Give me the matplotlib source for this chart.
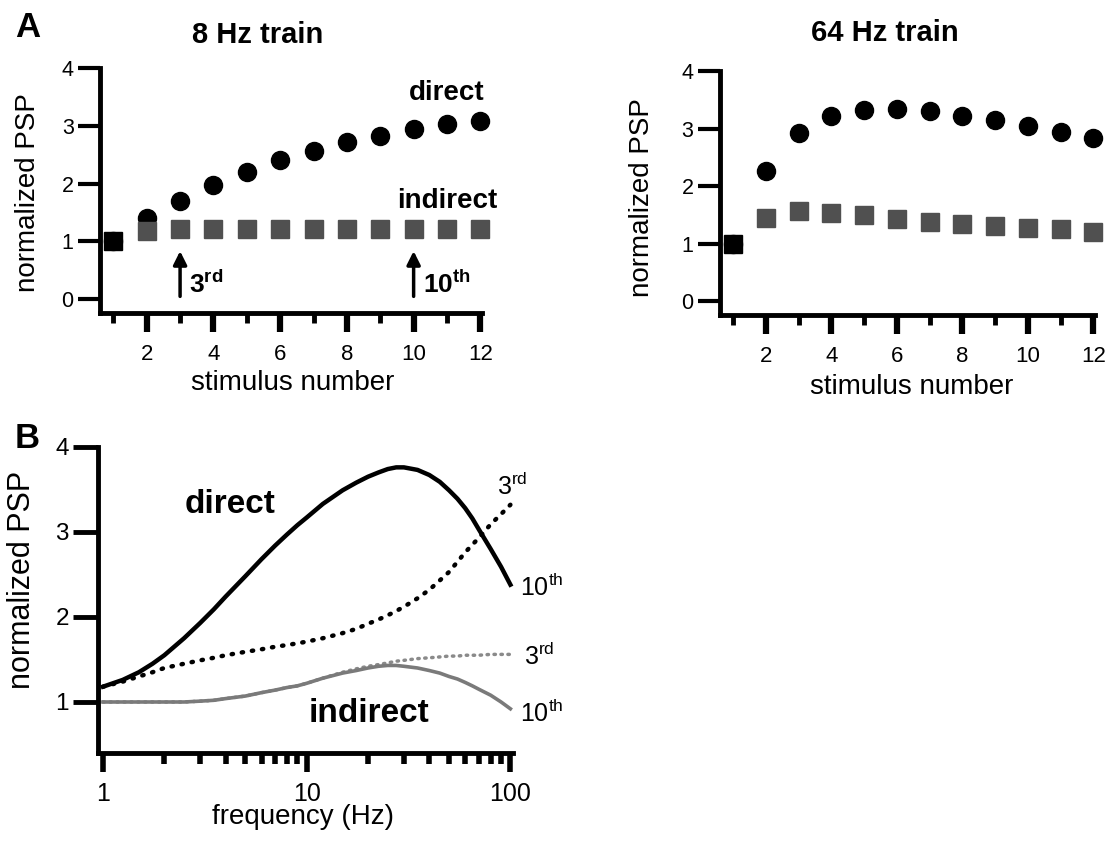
import numpy as np
import matplotlib
matplotlib.use("Agg")
import matplotlib.pyplot as plt
from matplotlib.ticker import FixedLocator, NullFormatter

plt.rcParams['font.family'] = ['Liberation Sans', 'DejaVu Sans']
plt.rcParams['mathtext.fontset'] = 'custom'
plt.rcParams['mathtext.rm'] = 'Liberation Sans'
plt.rcParams['mathtext.bf'] = 'Liberation Sans:bold'

# ---- data: panel A (stimulus trains) ----
stim = [1, 2, 3, 4, 5, 6, 7, 8, 9, 10, 11, 12]
direct_8hz = [1.0, 1.41, 1.70, 1.97, 2.20, 2.40, 2.57, 2.72, 2.83, 2.95, 3.03, 3.09]
indirect_8hz = [1.0, 1.18, 1.21, 1.21, 1.21, 1.21, 1.21, 1.21, 1.21, 1.21, 1.21, 1.21]
direct_64hz = [1.0, 2.26, 2.93, 3.22, 3.33, 3.34, 3.31, 3.22, 3.14, 3.04, 2.94, 2.83]
indirect_64hz = [1.0, 1.45, 1.56, 1.53, 1.49, 1.43, 1.38, 1.34, 1.30, 1.27, 1.25, 1.20]

# ---- data: panel B (frequency dependence) ----
freq = [1, 1.25, 1.5, 1.75, 2, 2.5, 3, 3.5, 4, 5, 6, 7, 8, 9, 10, 12, 15, 17.5,
        20, 22.5, 25, 27.5, 30, 35, 40, 45, 50, 55, 60, 65, 70, 80, 90, 100]
direct_10th = [1.18, 1.26, 1.35, 1.45, 1.55, 1.75, 1.93, 2.09, 2.24, 2.48, 2.68, 2.84,
               2.97, 3.08, 3.17, 3.33, 3.49, 3.58, 3.65, 3.70, 3.74, 3.76, 3.76, 3.73,
               3.67, 3.59, 3.49, 3.39, 3.28, 3.16, 3.03, 2.80, 2.59, 2.38]
direct_3rd = [1.18, 1.24, 1.30, 1.35, 1.40, 1.45, 1.49, 1.52, 1.55, 1.59, 1.62, 1.65,
              1.67, 1.69, 1.71, 1.75, 1.81, 1.86, 1.92, 1.97, 2.02, 2.07, 2.12, 2.22,
              2.32, 2.43, 2.53, 2.65, 2.76, 2.85, 2.93, 3.09, 3.21, 3.32]
indirect_10th = [1.0, 1.0, 1.0, 1.0, 1.0, 1.0, 1.01, 1.02, 1.04, 1.07, 1.11, 1.14,
                 1.17, 1.19, 1.22, 1.28, 1.34, 1.37, 1.40, 1.42, 1.43, 1.43, 1.42, 1.40,
                 1.37, 1.34, 1.30, 1.27, 1.23, 1.19, 1.15, 1.08, 1.00, 0.92]
indirect_3rd = [1.0, 1.0, 1.0, 1.0, 1.0, 1.0, 1.01, 1.02, 1.04, 1.07, 1.11, 1.14,
                1.17, 1.19, 1.22, 1.28, 1.35, 1.39, 1.42, 1.44, 1.46, 1.48, 1.49, 1.51,
                1.52, 1.53, 1.54, 1.54, 1.55, 1.55, 1.55, 1.56, 1.56, 1.56]

sq_gray = '#505050'

fig = plt.figure(figsize=(11.15, 8.52), dpi=100)


def style_train_axes(ax):
    ax.spines['top'].set_visible(False)
    ax.spines['right'].set_visible(False)
    ax.spines['left'].set_linewidth(3.5)
    ax.spines['bottom'].set_linewidth(3.5)
    ax.set_ylim(-0.24, 4.0)
    ax.set_xlim(0.6, 12.05)
    ax.set_yticks([0, 1, 2, 3, 4])
    ax.xaxis.set_major_locator(FixedLocator([2, 4, 6, 8, 10, 12]))
    ax.xaxis.set_minor_locator(FixedLocator([1, 3, 5, 7, 9, 11]))
    ax.xaxis.set_minor_formatter(NullFormatter())
    ax.tick_params(axis='y', length=16, width=3, labelsize=15.5, pad=3)
    ax.tick_params(axis='x', which='major', length=14, width=4.5, labelsize=16, pad=8)
    ax.tick_params(axis='x', which='minor', length=7, width=3.5)
    ax.set_xlabel('stimulus number', fontsize=20, va='center')
    ax.set_ylabel('normalized PSP', fontsize=20, va='center')


def plot_train(ax, d, ind):
    ax.plot(stim, d, 'o', color='black', ms=13, clip_on=False, zorder=3)
    ax.plot(stim[1:], ind[1:], 's', color=sq_gray, ms=12.5, mec=sq_gray, clip_on=False, zorder=4)
    ax.plot(stim[:1], ind[:1], 's', color='black', ms=12.5, clip_on=False, zorder=5)


# ---- 8 Hz train ----
ax1 = fig.add_axes([0.0897, 0.6326, 0.3426, 0.2876])
plot_train(ax1, direct_8hz, indirect_8hz)
style_train_axes(ax1)
ax1.xaxis.set_label_coords(0.505, -0.286)
ax1.yaxis.set_label_coords(-0.188, 0.49)
ax1.text(11.0, 3.57, 'direct', fontsize=20, fontweight='bold', ha='center', va='center')
ax1.text(11.0, 1.69, 'indirect', fontsize=20, fontweight='bold', ha='center', va='center')
for xs, lab in [(3, r'3$^{\mathbf{rd}}$'), (10, r'10$^{\mathbf{th}}$')]:
    ax1.annotate('', xy=(xs, 0.88), xytext=(xs, 0.0),
                 arrowprops=dict(arrowstyle='-|>', lw=2.5, color='black', mutation_scale=20))
    ax1.text(xs + 0.28, 0.26, lab, fontsize=19, fontweight='bold', ha='left', va='center')

# ---- 64 Hz train ----
ax2 = fig.add_axes([0.6457, 0.6303, 0.3363, 0.2864])
plot_train(ax2, direct_64hz, indirect_64hz)
style_train_axes(ax2)
ax2.xaxis.set_label_coords(0.512, -0.295)
ax2.yaxis.set_label_coords(-0.208, 0.48)

fig.text(0.2314, 0.9589, '8 Hz train', fontsize=21, fontweight='bold', ha='center', va='center')
fig.text(0.7937, 0.9613, '64 Hz train', fontsize=21, fontweight='bold', ha='center', va='center')
fig.text(0.0251, 0.9683, 'A', fontsize=25, fontweight='bold', ha='center', va='center')
fig.text(0.0242, 0.4859, 'B', fontsize=25, fontweight='bold', ha='center', va='center')

# ---- panel B ----
ax3 = fig.add_axes([0.0879, 0.1162, 0.3722, 0.3592])
ax3.plot(freq, indirect_3rd, color='#8a8a8a', lw=2.5, ls=(0, (0.4, 1.6)),
         dash_capstyle='round', clip_on=False)
ax3.plot(freq, indirect_10th, color='#7a7a7a', lw=2.6, clip_on=False)
ax3.plot(freq, direct_3rd, color='black', lw=3.2, ls=(0, (0.3, 2.0)),
         dash_capstyle='round', clip_on=False)
ax3.plot(freq, direct_10th, color='black', lw=3.2, clip_on=False)
ax3.set_xscale('log')
ax3.set_xlim(0.945, 103)
ax3.set_ylim(0.4, 4.0)
ax3.spines['top'].set_visible(False)
ax3.spines['right'].set_visible(False)
ax3.spines['left'].set_linewidth(3.5)
ax3.spines['bottom'].set_linewidth(3.5)
ax3.set_yticks([1, 2, 3, 4])
ax3.xaxis.set_major_locator(FixedLocator([1, 10, 100]))
ax3.set_xticklabels(['1', '10', '100'])
minor_f = [m * d for d in (1, 10) for m in range(2, 10)]
ax3.xaxis.set_minor_locator(FixedLocator(minor_f))
ax3.xaxis.set_minor_formatter(NullFormatter())
ax3.tick_params(axis='y', length=18, width=3.5, labelsize=17.5, pad=3)
ax3.tick_params(axis='x', which='major', length=14, width=4, labelsize=18, pad=7)
ax3.tick_params(axis='x', which='minor', length=8, width=4)
ax3.set_xlabel('frequency (Hz)', fontsize=20, va='center')
ax3.set_ylabel('normalized PSP', fontsize=22, va='center')
ax3.xaxis.set_label_coords(0.494, -0.209)
ax3.yaxis.set_label_coords(-0.183, 0.565)

ax3.text(4.2, 3.32, 'direct', fontsize=24, fontweight='bold', ha='center', va='center')
ax3.text(20.3, 0.87, 'indirect', fontsize=24, fontweight='bold', ha='center', va='center')
ax3.text(86, 3.53, r'3$^{\mathrm{rd}}$', fontsize=18, ha='left', va='center', clip_on=False)
ax3.text(112, 2.35, r'10$^{\mathrm{th}}$', fontsize=18, ha='left', va='center', clip_on=False)
ax3.text(117, 1.53, r'3$^{\mathrm{rd}}$', fontsize=18, ha='left', va='center', clip_on=False)
ax3.text(112, 0.87, r'10$^{\mathrm{th}}$', fontsize=18, ha='left', va='center', clip_on=False)

fig.savefig('out.png', dpi=100)
